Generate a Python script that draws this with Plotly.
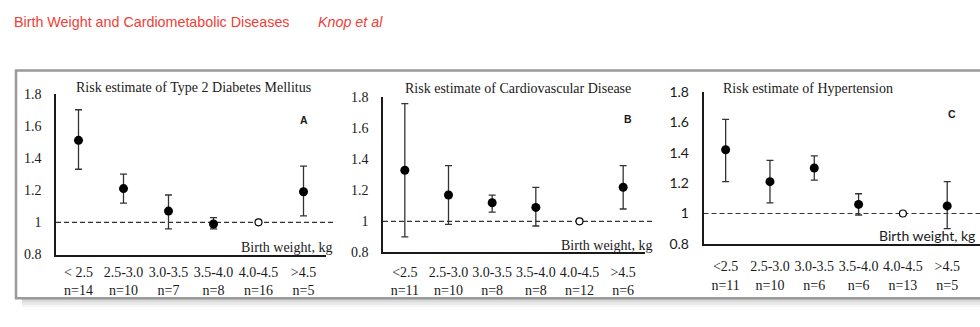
import plotly.graph_objects as go

# Birth-weight categories and group sizes per outcome
categories = ["< 2.5", "2.5-3.0", "3.0-3.5", "3.5-4.0", "4.0-4.5", ">4.5"]
categories_bc = ["<2.5", "2.5-3.0", "3.0-3.5", "3.5-4.0", "4.0-4.5", ">4.5"]
n_t2dm = [14, 10, 7, 8, 16, 5]
n_cvd = [11, 10, 8, 8, 12, 6]
n_htn = [11, 10, 6, 6, 13, 5]

# Reference category (4.0-4.5 kg) is fixed at 1
ref_index = 4

# Type 2 diabetes mellitus: estimate with lower / upper limits
t2dm_est = [1.51, 1.21, 1.07, 0.99, 1.00, 1.19]
t2dm_low = [1.33, 1.12, 0.96, 0.96, 1.00, 1.04]
t2dm_high = [1.70, 1.30, 1.17, 1.03, 1.00, 1.35]

# Cardiovascular disease
cvd_est = [1.33, 1.17, 1.12, 1.09, 1.00, 1.22]
cvd_low = [0.90, 0.98, 1.06, 0.97, 1.00, 1.08]
cvd_high = [1.76, 1.36, 1.17, 1.22, 1.00, 1.36]

# Hypertension
htn_est = [1.42, 1.21, 1.30, 1.06, 1.00, 1.05]
htn_low = [1.21, 1.07, 1.22, 0.99, 1.00, 0.90]
htn_high = [1.62, 1.35, 1.38, 1.13, 1.00, 1.21]

y_ticks = [0.8, 1.0, 1.2, 1.4, 1.6, 1.8]
y_tick_text = ["0.8", "1", "1.2", "1.4", "1.6", "1.8"]

titles = ["Risk estimate of Type 2 Diabetes Mellitus",
          "Risk estimate of Cardiovascular Disease",
          "Risk estimate of Hypertension"]
panel_letters = ["A", "B", "C"]

W, H = 980, 327
SERIF = "Liberation Serif"
SANS = "Lato"
INK = "#1a1a1a"
RED = "#ef4036"


def px_x(p):
    return p / W


def px_y(p):
    return 1 - p / H


fig = go.Figure()

panels = [
    dict(cats=categories, n=n_t2dm, est=t2dm_est, lo=t2dm_low, hi=t2dm_high,
         xdom=(56, 326), ydom=(259, 89.3), xr=[-0.5, 5.5], tickfont=SERIF,
         xstand=4, dash_end=1.027, title_x=74, title_y=83, label_x=334, label_y=252,
         label_font=SERIF, letter_x=304, letter_y=117),
    dict(cats=categories_bc, n=n_cvd, est=cvd_est, lo=cvd_low, hi=cvd_high,
         xdom=(383, 645), ydom=(256.7, 93.3), xr=[-0.5, 5.5], tickfont=SERIF,
         xstand=6, dash_end=1.03, title_x=403, title_y=84, label_x=654, label_y=249.5,
         label_font=SERIF, letter_x=628, letter_y=116),
    dict(cats=categories_bc, n=n_htn, est=htn_est, lo=htn_low, hi=htn_high,
         xdom=(703.5, 980), ydom=(247.7, 87.7), xr=[-0.5, 5.74], tickfont=SANS,
         xstand=9, dash_end=1.0, title_x=721, title_y=84, label_x=977, label_y=239,
         label_font=SANS, letter_x=952, letter_y=111),
]

annotations = []
shapes = []

for i, p in enumerate(panels):
    k = "" if i == 0 else str(i + 1)
    xa, ya = "x" + k, "y" + k
    idx = [j for j in range(len(p["est"])) if j != ref_index]

    # Estimates with confidence limits
    fig.add_trace(go.Scatter(
        x=idx, y=[p["est"][j] for j in idx], xaxis=xa, yaxis=ya,
        mode="markers",
        marker=dict(color="black", size=9, line=dict(width=0)),
        error_y=dict(type="data", symmetric=False,
                     array=[p["hi"][j] - p["est"][j] for j in idx],
                     arrayminus=[p["est"][j] - p["lo"][j] for j in idx],
                     color="#333333", thickness=1.3, width=3.5),
        showlegend=False, hoverinfo="skip"))
    # Reference category
    fig.add_trace(go.Scatter(
        x=[ref_index], y=[p["est"][ref_index]], xaxis=xa, yaxis=ya,
        mode="markers",
        marker=dict(color="white", size=7, line=dict(color="black", width=1.2)),
        showlegend=False, hoverinfo="skip"))

    tick_text = [f"{c}<br>n={n}" for c, n in zip(p["cats"], p["n"])]
    fig.layout["xaxis" + k] = dict(
        domain=[px_x(p["xdom"][0]), px_x(p["xdom"][1])], range=p["xr"],
        anchor=ya, tickmode="array", tickvals=list(range(len(p["cats"]))),
        ticktext=tick_text, ticks="", showgrid=False, zeroline=False,
        showline=True, linecolor=INK, linewidth=1.5,
        tickfont=dict(family=SERIF, size=14, color=INK),
        ticklabelstandoff=p["xstand"], fixedrange=True)
    fig.layout["yaxis" + k] = dict(
        domain=[px_y(p["ydom"][0]), px_y(p["ydom"][1])], range=[0.8, 1.8],
        anchor=xa, tickmode="array", tickvals=y_ticks, ticktext=y_tick_text,
        ticks="", showgrid=False, zeroline=False,
        showline=True, linecolor=INK, linewidth=1.5,
        tickfont=dict(family=p["tickfont"], size=14, color=INK),
        ticklabelstandoff=10, fixedrange=True)

    # Dashed reference line at a risk estimate of 1
    shapes.append(dict(type="line", xref=xa + " domain", yref=ya,
                       x0=0, x1=p["dash_end"], y0=1, y1=1,
                       line=dict(color="#333333", width=1.2, dash="5px,3px"),
                       layer="below"))

    annotations.append(dict(text=titles[i], xref="paper", yref="paper",
                            x=px_x(p["title_x"]), y=px_y(p["title_y"]),
                            xanchor="left", yanchor="middle", showarrow=False,
                            font=dict(family=SERIF, size=14, color=INK)))
    annotations.append(dict(text="Birth weight, kg", xref="paper", yref="paper",
                            x=px_x(p["label_x"]), y=px_y(p["label_y"]),
                            xanchor="right", yanchor="middle", showarrow=False,
                            font=dict(family=p["label_font"], size=14, color=INK)))
    annotations.append(dict(text="<b>%s</b>" % panel_letters[i], xref="paper", yref="paper",
                            x=px_x(p["letter_x"]), y=px_y(p["letter_y"]),
                            xanchor="center", yanchor="middle", showarrow=False,
                            font=dict(family="Liberation Sans", size=10.5, color=INK)))

# Running header
annotations.append(dict(text="Birth Weight and Cardiometabolic Diseases", xref="paper", yref="paper",
                        x=px_x(12), y=px_y(14), xanchor="left", yanchor="middle",
                        showarrow=False,
                        font=dict(family="Liberation Sans", size=14.3, color=RED)))
annotations.append(dict(text="<i>Knop et al</i>", xref="paper", yref="paper",
                        x=px_x(316), y=px_y(14), xanchor="left", yanchor="middle",
                        showarrow=False,
                        font=dict(family="Liberation Sans", size=14.3, color=RED)))

# Figure frame with a soft drop shadow
for j, c in enumerate(["#c8c8c8", "#d6d6d6", "#e2e2e2", "#ebebeb", "#f3f3f3"]):
    shapes.append(dict(type="rect", xref="paper", yref="paper",
                       x0=px_x(22), x1=1.0, y0=px_y(306 + j * 1.6), y1=px_y(306 + (j + 1) * 1.6),
                       line=dict(width=0), fillcolor=c, layer="below"))
shapes.append(dict(type="rect", xref="paper", yref="paper",
                   x0=px_x(16), x1=1.02, y0=px_y(305), y1=px_y(65),
                   line=dict(color="#9a9a9a", width=2.5), fillcolor="rgba(0,0,0,0)",
                   layer="above"))

fig.update_layout(width=W, height=H, margin=dict(l=0, r=0, t=0, b=0),
                  paper_bgcolor="white", plot_bgcolor="white",
                  shapes=shapes, annotations=annotations, showlegend=False)

fig.write_html("out.html", config={"displayModeBar": False})
